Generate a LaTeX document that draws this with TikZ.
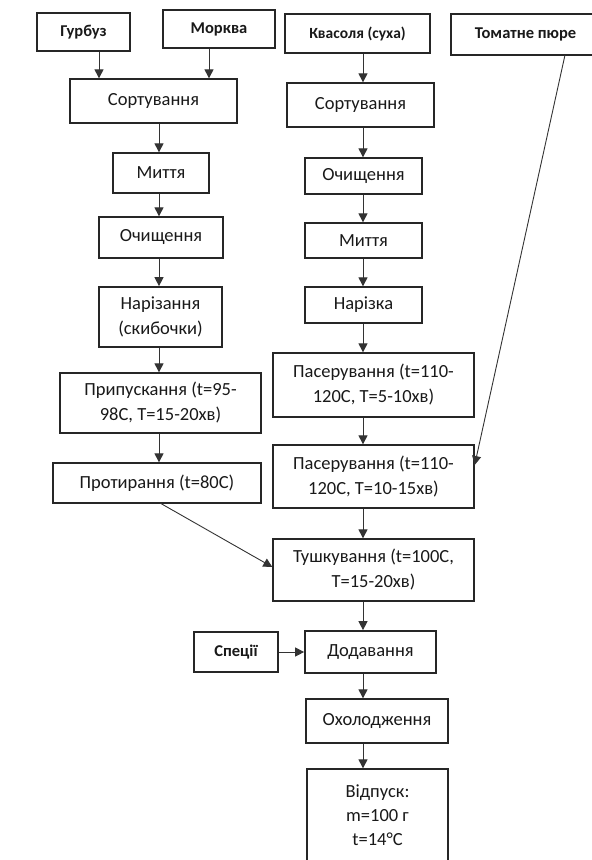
\documentclass[tikz,border=0pt]{standalone}
\usepackage{fontspec}
\setmainfont{Carlito}
\usetikzlibrary{arrows.meta}
\begin{document}
\begin{tikzpicture}[x=1pt,y=-1pt,
  box/.style={draw=black!85, line width=1.3pt, fill=white, inner sep=2pt,
    align=center, font=\fontsize{18.5}{25}\selectfont, text=black!90},
  src/.style={box, line width=2pt, font=\bfseries\fontsize{16.5}{18}\selectfont},
  arr/.style={draw=black!80, line width=1pt, -{Triangle[length=9pt,width=9pt]}},
  link/.style={draw=black!80, line width=0.9pt, -{Triangle[length=9pt,width=9pt]}}
]
\useasboundingbox (0,0) rectangle (592,860);
\clip (0,0) rectangle (592,860);

% raw materials
\node[src, minimum width=93pt, minimum height=38pt] (gurb) at (83.5,32) {Гурбуз};
\node[src, minimum width=112pt, minimum height=38pt] (mork) at (219,29) {Морква};
\node[src, minimum width=145pt, minimum height=39pt, font=\bfseries\fontsize{15.5}{17}\selectfont] (kvas) at (357.5,33.5) {Квасоля (суха)};
\node[src, minimum width=149pt, minimum height=41pt] (tomat) at (525.5,34.5) {Томатне пюре};

% vegetable line
\node[box, minimum width=167pt, minimum height=44pt] (sortL) at (153.5,101) {Сортування};
\node[box, minimum width=96pt, minimum height=40pt] (mytL) at (161,173) {Миття};
\node[box, minimum width=124pt, minimum height=41pt] (ochL) at (161,237.5) {Очищення};
\node[box, line width=1.7pt, minimum width=123pt, minimum height=60pt] (narL) at (160.5,317) {Нарізання\\(скибочки)};
\node[box, minimum width=201pt, minimum height=60pt] (prypL) at (160.5,403) {Припускання (t=95-\\98С, Т=15-20хв)};
\node[box, minimum width=208pt, minimum height=40pt] (protL) at (157,483) {Протирання (t=80С)};

% bean line
\node[box, minimum width=147pt, minimum height=44pt] (sortR) at (360.5,105) {Сортування};
\node[box, minimum width=117pt, minimum height=36pt] (ochR) at (363.5,176) {Очищення};
\node[box, minimum width=117pt, minimum height=35pt] (mytR) at (363.5,240.5) {Миття};
\node[box, minimum width=117pt, minimum height=36pt] (narR) at (363.5,305) {Нарізка};
\node[box, minimum width=201pt, minimum height=64pt] (pas1) at (373.5,385) {Пасерування (t=110-\\120С, Т=5-10хв)};
\node[box, minimum width=201pt, minimum height=63pt] (pas2) at (373.5,476.5) {Пасерування (t=110-\\120С, Т=10-15хв)};
\node[box, minimum width=201pt, minimum height=62pt] (tush) at (373.5,570) {Тушкування (t=100С,\\Т=15-20хв)};

% final stages
\node[src, minimum width=84pt, minimum height=40pt] (spec) at (236,652) {Спеції};
\node[box, line width=1.7pt, minimum width=131pt, minimum height=42pt] (dod) at (370.5,652) {Додавання};
\node[box, minimum width=142pt, minimum height=44pt] (okh) at (377,721) {Охолодження};
\node[box, minimum width=141pt, minimum height=106pt] (vidp) at (377.5,822) {};
\node[font=\fontsize{18.5}{24}\selectfont, text=black!90, align=center, anchor=north, inner sep=0pt] (vidpt) at (377.5,785) {Відпуск:\\m=100 г\\t=14°С};

% column guides
\coordinate (gx) at (99,0);
\coordinate (mx) at (209,0);
\coordinate (cL) at (159,0);
\coordinate (cR) at (363,0);

% connectors
\draw[arr] (gurb.south -| gx) -- (sortL.north -| gx);
\draw[arr] (mork.south -| mx) -- (sortL.north -| mx);
\draw[arr] (sortL.south -| cL) -- (mytL.north -| cL);
\draw[arr] (mytL.south -| cL) -- (ochL.north -| cL);
\draw[arr] (ochL.south -| cL) -- (narL.north -| cL);
\draw[arr] (narL.south -| cL) -- (prypL.north -| cL);
\draw[arr] (prypL.south -| cL) -- (protL.north -| cL);

\draw[arr] (kvas.south -| cR) -- (sortR.north -| cR);
\draw[arr] (sortR.south -| cR) -- (ochR.north -| cR);
\draw[arr] (ochR.south -| cR) -- (mytR.north -| cR);
\draw[arr] (mytR.south -| cR) -- (narR.north -| cR);
\draw[arr] (narR.south -| cR) -- (pas1.north -| cR);
\draw[arr] (pas1.south -| cR) -- (pas2.north -| cR);
\draw[arr] (pas2.south -| cR) -- (tush.north -| cR);
\draw[arr] (tush.south -| cR) -- (dod.north -| cR);
\draw[arr] (dod.south -| cR) -- (okh.north -| cR);
\draw[arr] (okh.south -| cR) -- (vidp.north -| cR);
\draw[arr] (spec.east) -- (dod.west);

\coordinate (tomatOut) at (565,55);
\coordinate (protOut) at (160,503);
\draw[link] (tomatOut) -- (pas2.east |- 0,465);
\draw[link] (protOut) -- (tush.west |- 0,567);
\end{tikzpicture}
\end{document}
